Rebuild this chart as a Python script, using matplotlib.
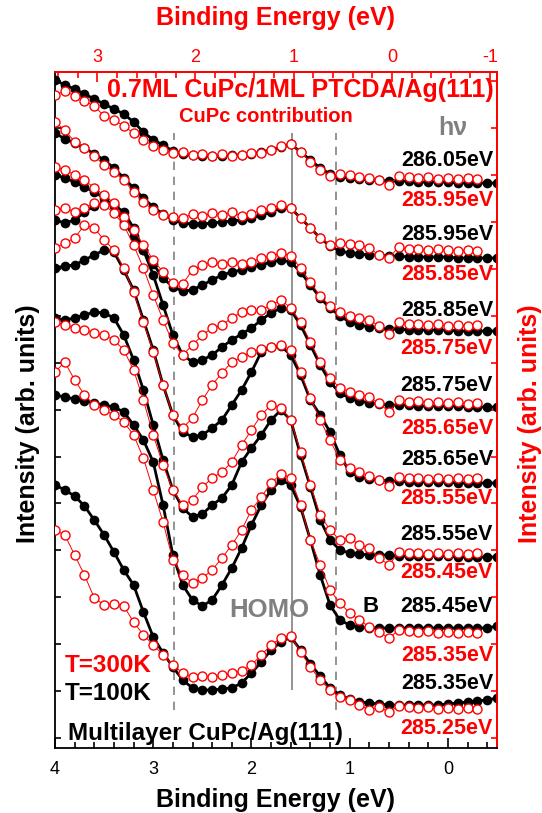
import numpy as np
import matplotlib.pyplot as plt

plt.rcParams['font.family'] = ['Liberation Sans', 'DejaVu Sans']
plt.rcParams['font.weight'] = 'bold'
plt.rcParams['axes.unicode_minus'] = False

# binding energy grid (eV), red spectra stop at -0.3 eV
energy = np.linspace(4.0, -0.5, 46)
energy_red = energy[:44]

# photon energies of each spectrum (black = T=100K, red = T=300K)
hv_black = ['286.05eV', '285.95eV', '285.85eV', '285.75eV', '285.65eV', '285.55eV', '285.45eV', '285.35eV']
hv_red = ['285.95eV', '285.85eV', '285.75eV', '285.65eV', '285.55eV', '285.45eV', '285.35eV', '285.25eV']

# intensities (arb. units, already offset)
black1 = [668, 663, 659, 654, 649, 644, 639, 634, 626, 616, 608, 603, 597, 594, 593, 592, 592, 592, 593, 593,
          594, 596, 598, 601, 604, 596, 588, 580, 574, 571, 570, 569, 568, 568, 567, 567, 567, 566, 566, 566,
          566, 565, 565, 565, 565, 565]
red1 = [653, 657, 652, 647, 642, 632, 628, 622, 615, 608, 602, 598, 595, 596, 593, 594, 592, 594, 592, 593,
        595, 595, 598, 602, 604, 596, 586, 578, 572, 574, 573, 571, 570, 568, 563, 572, 571, 570, 571, 569,
        570, 569, 570, 569]
black2 = [615, 609, 605, 600, 594, 588, 580, 570, 560, 550, 541, 534, 528, 525, 524, 524, 525, 526, 527, 528,
          530, 533, 536, 540, 540, 530, 520, 510, 502, 497, 495, 494, 493, 493, 492, 492, 491, 491, 491, 491,
          491, 490, 490, 490, 490, 490]
red2 = [626, 618, 606, 600, 592, 583, 576, 568, 556, 546, 538, 533, 531, 530, 534, 532, 535, 533, 536, 532,
        534, 538, 540, 543, 540, 530, 520, 510, 503, 505, 504, 503, 500, 493, 490, 501, 499, 499, 498, 499,
        498, 497, 498, 497]
black3 = [573, 570, 566, 561, 556, 550, 542, 526, 512, 498, 484, 470, 461, 457, 458, 463, 468, 473, 476, 478,
          481, 483, 486, 488, 486, 476, 463, 450, 440, 432, 426, 423, 421, 420, 419, 419, 418, 418, 418, 418,
          418, 417, 417, 417, 417, 417]
red3 = [581, 578, 573, 568, 560, 553, 545, 531, 518, 503, 488, 476, 465, 464, 478, 483, 486, 484, 486, 484,
        486, 490, 492, 495, 492, 480, 466, 452, 442, 436, 432, 430, 428, 422, 414, 426, 424, 424, 423, 424,
        422, 423, 422, 423]
black4 = [528, 525, 528, 536, 542, 545, 543, 536, 520, 498, 473, 443, 413, 393, 386, 388, 393, 401, 408, 414,
          420, 428, 435, 440, 438, 423, 403, 383, 366, 355, 350, 347, 345, 344, 343, 343, 343, 342, 342, 342,
          342, 342, 341, 341, 341, 341]
red4 = [538, 540, 536, 540, 545, 543, 535, 523, 503, 480, 453, 428, 405, 393, 403, 413, 420, 423, 430, 436,
        438, 438, 443, 448, 440, 426, 406, 386, 370, 360, 356, 353, 351, 345, 336, 348, 346, 347, 345, 346,
        345, 346, 344, 345]
black5 = [480, 482, 483, 488, 493, 498, 496, 478, 458, 428, 398, 363, 333, 316, 311, 313, 320, 328, 343, 358,
          376, 396, 401, 402, 393, 373, 348, 333, 316, 293, 276, 271, 269, 268, 267, 267, 266, 266, 266, 266,
          266, 265, 265, 265, 265, 265]
red5 = [500, 505, 510, 523, 520, 508, 498, 480, 456, 426, 396, 363, 333, 320, 330, 348, 363, 375, 386, 391,
        396, 399, 401, 403, 398, 376, 350, 328, 308, 288, 280, 276, 272, 268, 262, 271, 270, 270, 269, 270,
        269, 270, 269, 270]
black6 = [430, 428, 430, 433, 436, 435, 430, 413, 388, 358, 323, 288, 258, 240, 231, 234, 243, 250, 263, 286,
          300, 313, 328, 338, 328, 293, 261, 228, 208, 198, 195, 194, 193, 193, 193, 192, 192, 192, 192, 192,
          192, 191, 191, 191, 191, 191]
red6 = [426, 423, 420, 418, 415, 413, 408, 398, 378, 348, 313, 283, 258, 243, 248, 261, 270, 276, 286, 303,
        318, 333, 343, 340, 328, 296, 263, 233, 218, 208, 210, 203, 200, 190, 183, 196, 195, 195, 194, 195,
        194, 195, 194, 195]
black7 = [353, 351, 349, 347, 345, 343, 341, 336, 323, 308, 286, 243, 193, 163, 148, 142, 148, 163, 180, 200,
          223, 243, 258, 268, 263, 241, 208, 173, 143, 128, 123, 121, 120, 120, 120, 120, 120, 120, 120, 120,
          120, 120, 120, 120, 120, 122]
red7 = [376, 386, 368, 353, 343, 338, 333, 326, 313, 290, 258, 226, 188, 173, 165, 170, 178, 190, 203, 218,
        238, 251, 265, 274, 270, 243, 208, 183, 158, 145, 135, 128, 121, 116, 110, 118, 117, 116, 117, 115,
        116, 115, 116, 115]
black8 = [263, 258, 252, 242, 228, 213, 196, 178, 163, 136, 111, 95, 81, 68, 60, 58, 58, 59, 60, 65,
          75, 86, 98, 106, 111, 98, 84, 72, 60, 53, 49, 46, 45, 44, 43, 43, 43, 43, 43, 43,
          44, 45, 46, 47, 48, 50]
red8 = [218, 213, 193, 173, 150, 143, 144, 142, 126, 113, 103, 93, 83, 75, 71, 72, 71, 73, 75, 77,
        83, 93, 103, 110, 112, 96, 81, 68, 58, 51, 48, 43, 38, 41, 36, 42, 41, 40, 41, 39,
        40, 39, 40, 39]

blacks = [black1, black2, black3, black4, black5, black6, black7, black8]
reds = [red1, red2, red3, red4, red5, red6, red7, red8]

# label heights next to each spectrum
label_y_black = [587, 513, 438, 363, 289, 213, 141, 65]
label_y_red = [547, 473, 400, 320, 250, 176, 93, 20]

fig = plt.figure(figsize=(5.42, 8.13), dpi=100)
ax = fig.add_axes([55 / 542, 65 / 813, 442 / 542, 676 / 813])

# reference lines
ax.vlines([2.79, 1.14], 38, 615, colors='grey', linestyles=(0, (5, 4)), lw=1.2, zorder=1)
ax.vlines(1.59, 58, 615, colors='grey', lw=1.2, zorder=1)

for b, r in zip(blacks, reds):
    ax.plot(energy, b, 'o-', color='black', ms=7, lw=2.0, mew=0, zorder=2)
    ax.plot(energy_red, r, 'o-', color='red', mfc='white', mec='red', ms=6.5, mew=1, lw=0.7, zorder=3)

for lab, y in zip(hv_black, label_y_black):
    ax.text(-0.46, y, lab, color='black', fontsize=15.5, ha='right', va='center')
for lab, y in zip(hv_red, label_y_red):
    ax.text(-0.46, y, lab, color='red', fontsize=15.5, ha='right', va='center')

ax.text(-0.05, 620, 'h\u03bd', color='grey', fontsize=18, ha='center', va='center')
ax.text(0.79, 141, 'B', color='black', fontsize=16, ha='center', va='center')
ax.text(1.82, 138, 'HOMO', color='grey', fontsize=18.5, ha='center', va='center')
ax.text(1.5, 658, '0.7ML CuPc/1ML PTCDA/Ag(111)', color='red', fontsize=18, ha='center', va='center')
ax.text(1.85, 632, 'CuPc contribution', color='red', fontsize=14.5, ha='center', va='center')
ax.text(3.9, 83, 'T=300K', color='red', fontsize=17.5, ha='left', va='center')
ax.text(3.9, 55, 'T=100K', color='black', fontsize=17.5, ha='left', va='center')
ax.text(3.87, 15, 'Multilayer CuPc/Ag(111)', color='black', fontsize=17.5, ha='left', va='center')

ax.set_xlim(4.0, -0.5)
ax.set_ylim(0, 676)
ax.set_xticks([4, 3, 2, 1, 0])
ax.set_xticks(np.arange(4.0, -0.6, -0.2), minor=True)
ax.set_yticks(np.arange(10, 676, 46.9))
ax.set_yticklabels([])
ax.tick_params(axis='x', which='major', direction='in', length=7, width=1.2, labelsize=13, pad=9, top=False)
ax.tick_params(axis='x', which='minor', direction='in', length=4, width=1.2, top=False)
ax.tick_params(axis='y', which='major', direction='in', length=4, width=1.2, right=False)
for s in ['left', 'bottom']:
    ax.spines[s].set_linewidth(1.3)
for s in ['top', 'right']:
    ax.spines[s].set_color('red')
    ax.spines[s].set_linewidth(1.3)
for lab in ax.get_xticklabels():
    lab.set_fontweight('normal')

top = ax.secondary_xaxis('top', functions=(lambda e: e - 0.57, lambda t: t + 0.57))
top.set_xticks([3, 2, 1, 0, -1])
top.set_xticks(np.arange(3.4, -1.2, -0.2), minor=True)
top.tick_params(axis='x', which='major', direction='in', length=7, width=1.2, colors='red', labelsize=13, pad=4)
top.tick_params(axis='x', which='minor', direction='in', length=4, width=1.2, colors='red')
top.spines['top'].set_color('red')
top.spines['top'].set_linewidth(1.3)
for lab in top.get_xticklabels():
    lab.set_fontweight('normal')

right = ax.secondary_yaxis('right')
right.set_yticks(np.arange(10, 676, 46.9))
right.set_yticklabels([])
right.tick_params(axis='y', direction='in', length=4, width=1.2, colors='red')
right.spines['right'].set_color('red')
right.spines['right'].set_linewidth(1.3)

fig.text(276 / 542, 1 - 18 / 813, 'Binding Energy (eV)', color='red', fontsize=18, ha='center', va='center')
fig.text(276 / 542, 1 - 800 / 813, 'Binding Energy (eV)', color='black', fontsize=18, ha='center', va='center')
fig.text(28 / 542, 1 - 424 / 813, 'Intensity (arb. units)', color='black', fontsize=18, rotation=90,
         ha='center', va='center')
fig.text(530 / 542, 1 - 424 / 813, 'Intensity (arb. units)', color='red', fontsize=18, rotation=90,
         ha='center', va='center')

fig.savefig('out.png', dpi=100)
